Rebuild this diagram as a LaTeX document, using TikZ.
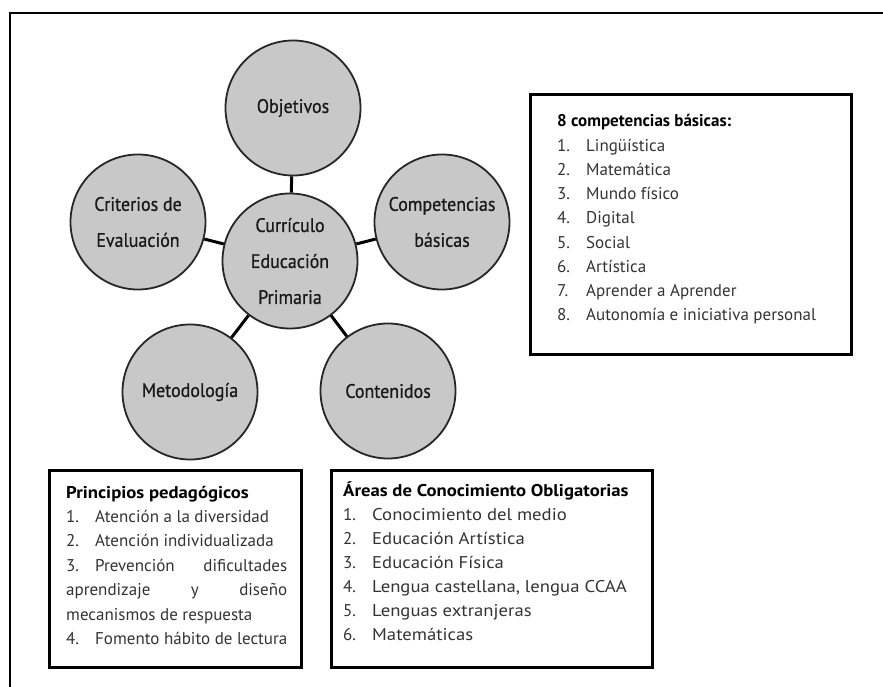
\documentclass[tikz,border=0pt]{standalone}
\usepackage{fontspec}
\setmainfont{PT Sans}
\newfontfamily\circfont[FakeStretch=0.92,FakeBold=0.7]{PT Sans}
\newfontfamily\widefont[FakeStretch=1.1]{PT Sans}
\definecolor{circgray}{HTML}{C8C8C8}
\definecolor{itemgray}{HTML}{333333}
\begin{document}
\begin{tikzpicture}[x=1pt,y=-1pt,
  circ/.style={circle,draw=black!85,line width=1.8pt,fill=circgray,minimum size=135pt,inner sep=0pt,align=center,font=\circfont\fontsize{19.5}{36}\selectfont,text=black!90},
  link/.style={line width=3pt,black},
  listbox/.style={draw=black,line width=3pt,inner sep=0pt,anchor=north west},
  head/.style={anchor=base west,inner sep=0pt,font=\fontsize{17}{20}\selectfont\bfseries,text=black},
  widehead/.style={anchor=base west,inner sep=0pt,font=\widefont\fontsize{17}{20}\selectfont\bfseries,text=black},
  item/.style={anchor=base west,inner sep=0pt,font=\fontsize{17}{20}\selectfont,text=itemgray},
  wideitem/.style={anchor=base west,inner sep=0pt,font=\widefont\fontsize{17}{20}\selectfont,text=itemgray}]
\useasboundingbox (0,0) rectangle (883,687);
\clip (0,0) rectangle (883,687);
\draw[line width=2.2pt] (10,700) -- (10,13) -- (900,13);

% circles
\node[circ] (obj) at (293,108) {Objetivos};
\node[circ] (crit) at (138,222) {Criterios de\\Evaluación};
\node[circ] (comp) at (442,222) {Competencias\\básicas};
\node[circ] (cur) at (290,261) {Currículo\\Educación\\Primaria};
\node[circ] (met) at (190,392) {Metodología};
\node[circ] (cont) at (388,391) {Contenidos};
\draw[link] (obj) -- (cur);
\draw[link] (crit) -- (cur);
\draw[link] (comp) -- (cur);
\draw[link] (met) -- (cur);
\draw[link] (cont) -- (cur);

% competencias box
\node[listbox,minimum width=321pt,minimum height=260pt] (compbox) at (529,93) {};
\node[head] (comphead) at (557,127) {8 competencias básicas:};
\foreach \t [count=\i] in {Lingüística,Matemática,Mundo físico,Digital,Social,Artística,Aprender a Aprender,Autonomía e iniciativa personal}{
  \node[item] (cn\i) at (557,{127+24.2*\i}) {\i.};
  \node[item] (ci\i) at (586,{127+24.2*\i}) {\t};
}

% principios box
\node[listbox,minimum width=252pt,minimum height=197pt] (princbox) at (48,469) {};
\node[widehead] (princhead) at (66,498) {Principios pedagógicos};
\node[item] (pn1) at (66,522.4) {1.};
\node[item] (pi1) at (95,522.4) {Atención a la diversidad};
\node[item] (pn2) at (66,546.8) {2.};
\node[item] (pi2) at (95,546.8) {Atención individualizada};
\node[item] (pi3a) at (66,571.2) {\makebox[221pt][s]{\makebox[29pt][l]{3.}Prevención\hfill dificultades}};
\node[item] (pi3b) at (66,595.6) {\makebox[221pt][s]{aprendizaje\hfill y\hfill diseño}};
\node[item] (pi3c) at (66,620.0) {mecanismos de respuesta};
\node[item] (pn4) at (66,644.4) {4.};
\node[item] (pi4) at (95,644.4) {Fomento hábito de lectura};

% areas box
\node[listbox,minimum width=321pt,minimum height=197pt] (areabox) at (330,469) {};
\node[widehead] (areahead) at (343,496) {Áreas de Conocimiento Obligatorias};
\foreach \t [count=\i] in {Conocimiento del medio,Educación Artística,Educación Física,{Lengua castellana, lengua CCAA},Lenguas extranjeras,Matemáticas}{
  \node[item] (an\i) at (343,{496+24.1*\i}) {\i.};
  \node[wideitem] (ai\i) at (372,{496+24.1*\i}) {\t};
}
\end{tikzpicture}
\end{document}
